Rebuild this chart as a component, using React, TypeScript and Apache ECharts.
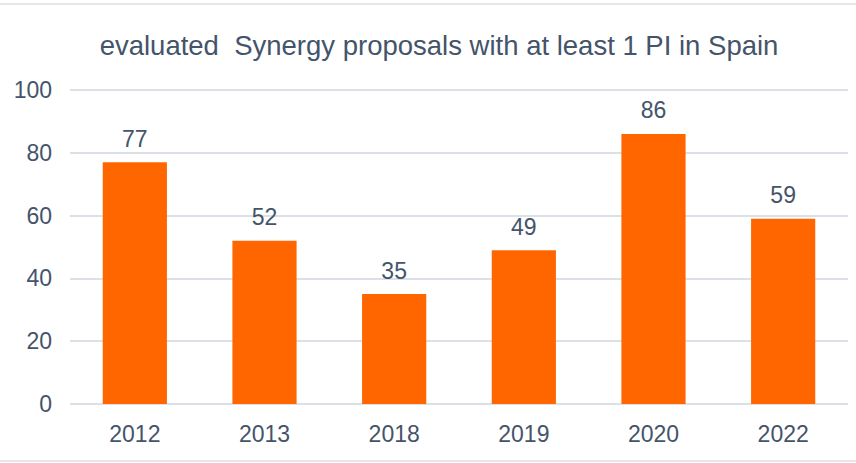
import React, { useEffect, useRef } from "react";
import * as echarts from "echarts";

const titleText = "evaluated  Synergy proposals with at least 1 PI in Spain";
const categories = ["2012", "2013", "2018", "2019", "2020", "2022"];
const values = [77, 52, 35, 49, 86, 59];
const yTicks = { min: 0, max: 100, interval: 20 };

const TEXT = "#44546A";
const ORANGE = "#FF6600";
const GRID = "#DCE1E8";
const FONT = "'Liberation Sans', Arial, sans-serif";

export default function App() {
  const ref = useRef<HTMLDivElement>(null);
  useEffect(() => {
    if (!ref.current) return;
    const chart = echarts.init(ref.current, undefined, { renderer: "svg" });
    chart.setOption({
      animation: false,
      backgroundColor: "#FFFFFF",
      textStyle: { fontFamily: FONT },
      title: {
        text: titleText,
        left: 434,
        textAlign: "center",
        top: 26,
        textStyle: { color: TEXT, fontSize: 27.5, fontWeight: "normal", fontFamily: FONT },
      },
      grid: { left: 70, right: 8, top: 90, bottom: 59, containLabel: false },
      xAxis: {
        type: "category",
        data: categories,
        axisLine: { show: false },
        axisTick: { show: false },
        axisLabel: { color: TEXT, fontSize: 23, margin: 18, fontFamily: FONT },
      },
      yAxis: {
        type: "value",
        min: yTicks.min,
        max: yTicks.max,
        interval: yTicks.interval,
        axisLine: { show: false },
        axisTick: { show: false },
        axisLabel: { color: TEXT, fontSize: 23, margin: 18, fontFamily: FONT },
        splitLine: { lineStyle: { color: GRID, width: 2 } },
      },
      series: [
        {
          type: "bar",
          data: values,
          barWidth: "49.5%",
          itemStyle: { color: ORANGE },
          label: {
            show: true,
            position: "top",
            distance: 12,
            color: TEXT,
            fontSize: 23,
            fontFamily: FONT,
          },
        },
      ],
      graphic: [
        { type: "line", shape: { x1: 0, y1: 4, x2: 856, y2: 4 }, style: { stroke: "#E3E6EB", lineWidth: 2 } },
        { type: "line", shape: { x1: 0, y1: 461, x2: 856, y2: 461 }, style: { stroke: "#E3E6EB", lineWidth: 2 } },
      ],
    });
    return () => chart.dispose();
  }, []);
  return (
    <div
      ref={ref}
      style={{ position: "fixed", left: 0, top: 0, width: 856, height: 463 }}
    />
  );
}
